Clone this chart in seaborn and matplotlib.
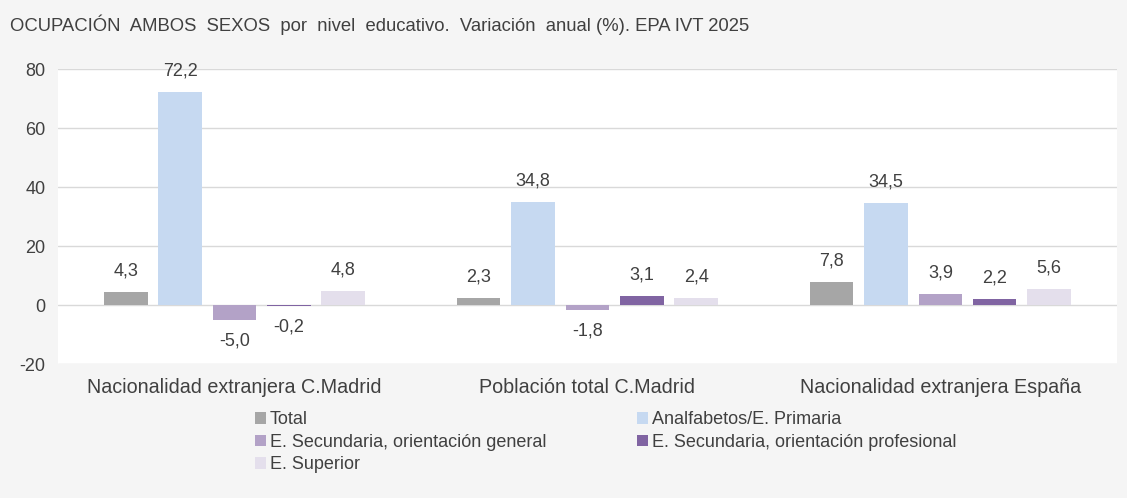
import pandas as pd
import seaborn as sns
import matplotlib.pyplot as plt

# datos
categorias = ['Nacionalidad extranjera C.Madrid', 'Población total C.Madrid', 'Nacionalidad extranjera España']
niveles = ['Total', 'Analfabetos/E. Primaria', 'E. Secundaria, orientación general',
           'E. Secundaria, orientación profesional', 'E. Superior']
total = [4.3, 2.3, 7.8]
analfabetos = [72.2, 34.8, 34.5]
sec_general = [-5.0, -1.8, 3.9]
sec_profesional = [-0.2, 3.1, 2.2]
superior = [4.8, 2.4, 5.6]
colores = ['#a6a6a6', '#c6d9f1', '#b3a2c7', '#8064a2', '#e4dfec']

series = [total, analfabetos, sec_general, sec_profesional, superior]
filas = []
for nivel, vals in zip(niveles, series):
    for cat, v in zip(categorias, vals):
        filas.append({'categoria': cat, 'nivel': nivel, 'valor': v})
df = pd.DataFrame(filas)

sns.set_style('white')
plt.rcParams['font.family'] = ['Liberation Sans', 'DejaVu Sans']
plt.rcParams['axes.unicode_minus'] = False

fig = plt.figure(figsize=(11.27, 4.98), dpi=100, facecolor='#f5f5f5')
ax = fig.add_axes([0.0515, 0.269, 0.9395, 0.592])
ax.set_facecolor('white')

sns.barplot(data=df, x='categoria', y='valor', hue='nivel', order=categorias,
            hue_order=niveles, palette=colores, width=0.77, gap=0.2,
            saturation=1, linewidth=0, ax=ax, legend=True)

for cont in ax.containers:
    ax.bar_label(cont, labels=[f'{v:.1f}'.replace('.', ',') for v in cont.datavalues],
                 padding=9, fontsize=13, color='#404040')

ax.set_ylim(-20, 80)
ax.set_yticks(range(-20, 81, 20))
ax.set_xlim(-0.5, 2.5)
ax.yaxis.grid(True, color='#d9d9d9', linewidth=1)
ax.set_axisbelow(True)
for s in ax.spines.values():
    s.set_visible(False)
ax.set_xlabel('')
ax.set_ylabel('')
ax.tick_params(axis='both', length=0, labelsize=13, labelcolor='#404040')
ax.tick_params(axis='y', pad=9)
ax.tick_params(axis='x', labelsize=14.2, pad=10)

# leyenda por filas: Total / Analfabetos, Sec. general / Sec. profesional, Superior
handles, labels = ax.get_legend_handles_labels()
ax.get_legend().remove()
orden = [0, 2, 4, 1, 3]
fig.legend([handles[i] for i in orden], [labels[i] for i in orden],
           loc='upper left', bbox_to_anchor=(0.218, 0.192), ncol=2,
           frameon=False, fontsize=13, handlelength=0.6, handleheight=0.6,
           handletextpad=0.25, columnspacing=5.0, labelspacing=0.3,
           labelcolor='#404040', borderpad=0)

fig.text(0.009, 0.95, 'OCUPACIÓN  AMBOS  SEXOS  por  nivel  educativo.  Variación  anual (%). EPA IVT 2025',
         fontsize=13.3, color='#404040', va='center', ha='left')

fig.savefig('out.png', dpi=100, facecolor=fig.get_facecolor())
